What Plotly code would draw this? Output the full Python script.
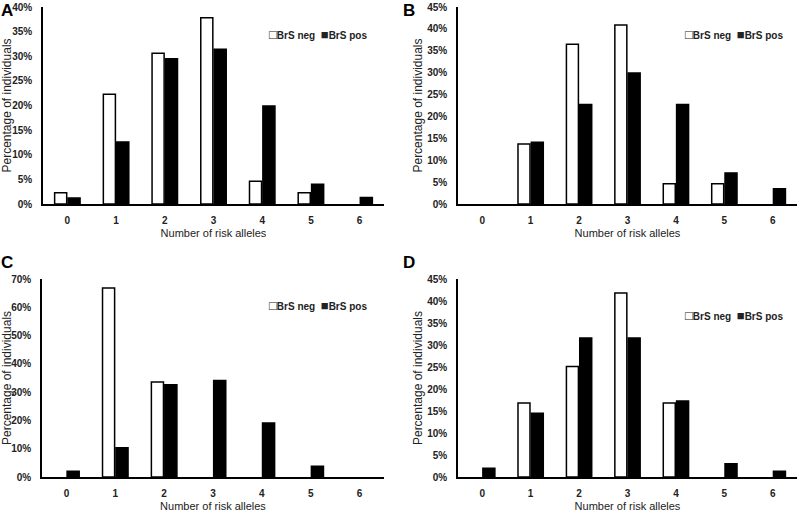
import plotly.graph_objects as go

categories = [0, 1, 2, 3, 4, 5, 6]
tick_labels = ["0", "1", "2", "3", "4", "5", "6"]

a_neg = [2.3, 22.3, 30.6, 37.8, 4.6, 2.3, 0]
a_pos = [1.2, 12.6, 29.5, 31.4, 19.9, 4.0, 1.3]
b_neg = [0, 13.7, 36.5, 40.9, 4.6, 4.6, 0]
b_pos = [0, 14.1, 22.7, 29.9, 22.7, 7.1, 3.5]
c_neg = [0, 66.8, 33.6, 0, 0, 0, 0]
c_pos = [2.0, 10.3, 32.6, 34.1, 19.1, 3.8, 0]
d_neg = [0, 16.8, 25.1, 41.8, 16.8, 0, 0]
d_pos = [2.0, 14.5, 31.6, 31.6, 17.3, 3.0, 1.3]

panel_letters = ["A", "B", "C", "D"]
series_names = ["BrS neg", "BrS pos"]
y_max = [40, 45, 70, 45]
y_step = [5, 5, 10, 5]

W, H = 800, 517
FONT = "Liberation Sans"
TXT = "#222"

# pixel layout of each panel: (x0, x1, ytop, ybottom)
panels_px = [(43, 384, 7, 204), (458, 797, 7, 204), (42, 384, 279, 477), (458, 797, 279, 477)]
letters_px = [(0, 0), (402, 0), (0, 252), (402, 252)]
legend_px = [(268, 35), (684, 35), (268, 305), (684, 315)]

fig = go.Figure()
data = [(a_neg, a_pos), (b_neg, b_pos), (c_neg, c_pos), (d_neg, d_pos)]


def nz(vals):
    return [v if v > 0 else None for v in vals]


layout = dict(
    width=W, height=H, margin=dict(l=0, r=0, t=0, b=0, autoexpand=False),
    paper_bgcolor="white", plot_bgcolor="white",
    barmode="group", bargap=0.45, bargroupgap=0.1,
    font=dict(family=FONT, color=TXT),
    showlegend=False,
    annotations=[],
)

sq = "<span style='font-size:13px'>{}</span>"
legend_text = ("<b>" + sq.format("□") + series_names[0] + "  " +
               sq.format("■") + series_names[1] + "</b>")

for i, (neg, pos) in enumerate(data):
    n = "" if i == 0 else str(i + 1)
    fig.add_trace(go.Bar(x=categories, y=nz(neg), name=series_names[0], xaxis=f"x{n}", yaxis=f"y{n}",
                         marker=dict(color="white", line=dict(color="black", width=1.5))))
    fig.add_trace(go.Bar(x=categories, y=nz(pos), name=series_names[1], xaxis=f"x{n}", yaxis=f"y{n}",
                         marker=dict(color="black", line=dict(color="black", width=1.5))))
    x0, x1, yt, yb = panels_px[i]
    xd = [x0 / W, x1 / W]
    yd = [1 - yb / H, 1 - yt / H]
    layout[f"xaxis{n}"] = dict(
        domain=xd, anchor=f"y{n}", range=[-0.5, 6.5],
        tickvals=categories, ticktext=tick_labels,
        showline=True, linecolor="black", linewidth=1.5, ticks="",
        showgrid=False, zeroline=False, ticklabelstandoff=6,
        tickfont=dict(size=10, family=FONT, color=TXT, weight="bold"),
        title=dict(text="Number of risk alleles", font=dict(size=11, family=FONT, color=TXT), standoff=5),
    )
    layout[f"yaxis{n}"] = dict(
        domain=yd, anchor=f"x{n}", range=[0, y_max[i]], dtick=y_step[i],
        ticksuffix="%", showline=True, linecolor="black", linewidth=1.5, ticks="",
        showgrid=False, zeroline=False, ticklabelstandoff=7,
        tickfont=dict(size=10, family=FONT, color=TXT, weight="bold"),
        title=dict(text="Percentage of individuals", font=dict(size=12, family=FONT, color=TXT), standoff=2),
    )
    lx, ly = letters_px[i]
    layout["annotations"].append(dict(
        text=f"<b>{panel_letters[i]}</b>", xref="paper", yref="paper",
        x=lx / W, y=1 - ly / H, xanchor="left", yanchor="top", showarrow=False,
        font=dict(size=17, family=FONT, color="black"), borderpad=0,
    ))
    gx, gy = legend_px[i]
    layout["annotations"].append(dict(
        text=legend_text, xref="paper", yref="paper",
        x=gx / W, y=1 - gy / H, xanchor="left", yanchor="middle", showarrow=False,
        font=dict(size=10, family=FONT, color=TXT), borderpad=0,
    ))

fig.update_layout(**layout)
fig.write_html("out.html", config={"displayModeBar": False},
               post_script="document.body.style.margin='0px';")
